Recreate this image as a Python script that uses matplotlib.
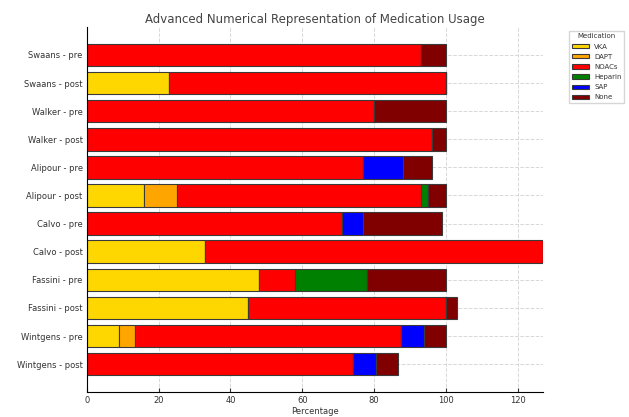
import matplotlib; matplotlib.use('Agg')
import matplotlib.pyplot as plt
import numpy as np

plt.rcParams['font.family'] = ['DejaVu Sans']
plt.rcParams['text.color'] = '#333333'
plt.rcParams['axes.labelcolor'] = '#333333'
plt.rcParams['xtick.color'] = '#333333'
plt.rcParams['ytick.color'] = '#333333'

studies = ['Swaans - pre', 'Swaans - post', 'Walker - pre', 'Walker - post',
           'Alipour - pre', 'Alipour - post', 'Calvo - pre', 'Calvo - post',
           'Fassini - pre', 'Fassini - post', 'Wintgens - pre', 'Wintgens - post']
meds = ['VKA', 'DAPT', 'NOACs', 'Heparin', 'SAP', 'None']
colors = ['gold', 'orange', 'red', 'green', 'blue', 'maroon']

vka     = [0, 23, 0, 0, 0, 16, 0, 33, 48, 45, 9, 0]
dapt    = [0, 0, 0, 0, 0, 9, 0, 0, 0, 0, 4.5, 0]
noacs   = [93, 77, 80, 96, 77, 68, 71, 94, 10, 55, 74, 74]
heparin = [0, 0, 0, 0, 0, 2, 0, 0, 20, 0, 0, 0]
sap     = [0, 0, 0, 0, 11, 0, 6, 0, 0, 0, 6.5, 6.5]
none    = [7, 0, 20, 4, 8, 5, 22, 0, 22, 3, 6, 6.2]
series = [vka, dapt, noacs, heparin, sap, none]

fig, ax = plt.subplots(figsize=(6.29, 4.17), dpi=100)
fig.subplots_adjust(left=0.138, right=0.863, top=0.935, bottom=0.06)

y = np.arange(len(studies))
left = np.zeros(len(studies))
for name, vals, c in zip(meds, series, colors):
    vals = np.array(vals, dtype=float)
    ax.barh(y, vals, left=left, color=c, edgecolor='#3a3a3a', linewidth=0.8,
            height=0.8, label=name)
    left += vals

ax.set_yticks(y)
ax.set_yticklabels(studies)
ax.invert_yaxis()
ax.set_xlim(0, left.max())
ax.set_xlabel('Percentage', fontsize=6, labelpad=1)
ax.set_title('Advanced Numerical Representation of Medication Usage',
             fontsize=8.5, pad=3, color='#444444')
ax.tick_params(axis='both', direction='in', labelsize=6, length=3, pad=3)
ax.grid(True, linestyle='--', color='#d8d8d8', linewidth=0.7)
ax.set_axisbelow(True)
for s in ['top', 'right']:
    ax.spines[s].set_visible(False)

leg = ax.legend(title='Medication', loc='upper left', bbox_to_anchor=(1.05, 1.0),
                fontsize=5, title_fontsize=5, handlelength=2.4, handleheight=0.6,
                labelspacing=0.6, frameon=True, fancybox=False, edgecolor='#cccccc')

fig.savefig('out.png', dpi=100)
